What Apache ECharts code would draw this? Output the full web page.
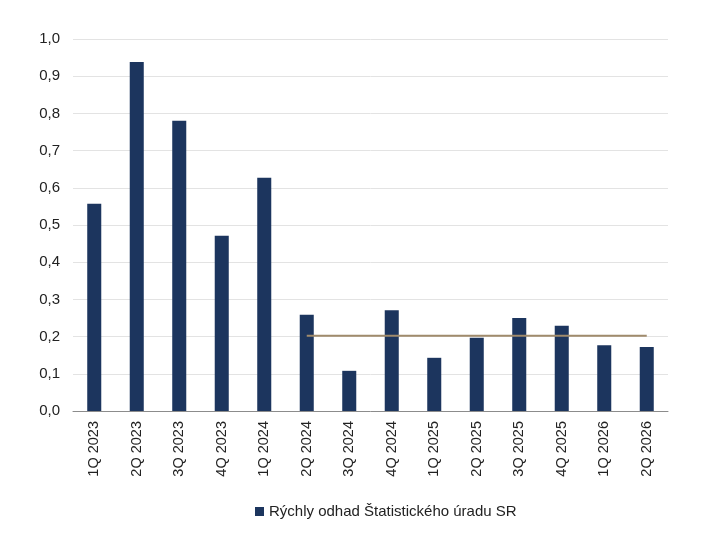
<!DOCTYPE html>
<html>
<head>
<meta charset="utf-8">
<script src="https://cdn.jsdelivr.net/npm/echarts@6/dist/echarts.min.js"></script>
<style>
  html, body { margin: 0; padding: 0; background: #fff; }
  #chart { width: 711px; height: 545px; }
</style>
</head>
<body>
<div id="chart"></div>
<script>
// kvartály
const categories = ["1Q 2023", "2Q 2023", "3Q 2023", "4Q 2023", "1Q 2024", "2Q 2024", "3Q 2024",
    "4Q 2024", "1Q 2025", "2Q 2025", "3Q 2025", "4Q 2025", "1Q 2026", "2Q 2026"];

// rýchly odhad
const flashValues = [0.557, 0.938, 0.780, 0.471, 0.627, 0.259, 0.108, 0.271, 0.143, 0.197, 0.250, 0.229, 0.177, 0.172];

// vodorovná čiara (priemer)
const avgLine = [null, null, null, null, null, 0.202, 0.202, 0.202, 0.202, 0.202, 0.202, 0.202, 0.202, 0.202];

const barName = "Rýchly odhad Štatistického úradu SR";
const font = "Liberation Sans, Arial, sans-serif";

let chart = echarts.init(document.getElementById("chart"), null, { renderer: "canvas" });

chart.setOption({
    backgroundColor: "#fff",
    animation: false,
    grid: { left: 73, right: 43, top: 39, bottom: 134 },
    legend: {
        data: [barName],
        bottom: 21,
        left: 250,
        itemWidth: 9,
        itemHeight: 9,
        itemGap: 4,
        icon: "rect",
        textStyle: { fontFamily: font, fontSize: 15, color: "#222" }
    },
    xAxis: {
        type: "category",
        data: categories,
        axisLine: { lineStyle: { color: "#8c8c8c", width: 1 } },
        axisTick: { show: false },
        axisLabel: {
            rotate: 90,
            interval: 0,
            margin: 10,
            fontFamily: font,
            fontSize: 14.5,
            color: "#222"
        }
    },
    yAxis: {
        type: "value",
        min: 0,
        max: 1,
        interval: 0.1,
        axisLine: { show: false },
        axisTick: { show: false },
        splitLine: { lineStyle: { color: "#e3e3e3", width: 1 } },
        axisLabel: {
            margin: 13,
            fontFamily: font,
            fontSize: 15,
            color: "#222",
            formatter: v => v.toFixed(1).replace(".", ",")
        }
    },
    series: [
        {
            name: barName,
            type: "bar",
            data: flashValues,
            barWidth: "33%",
            itemStyle: { color: "#1c355e" }
        },
        {
            name: "priemer",
            type: "line",
            data: avgLine,
            symbol: "none",
            lineStyle: { color: "#a08b6c", width: 2 }
        }
    ]
});
</script>
</body>
</html>
